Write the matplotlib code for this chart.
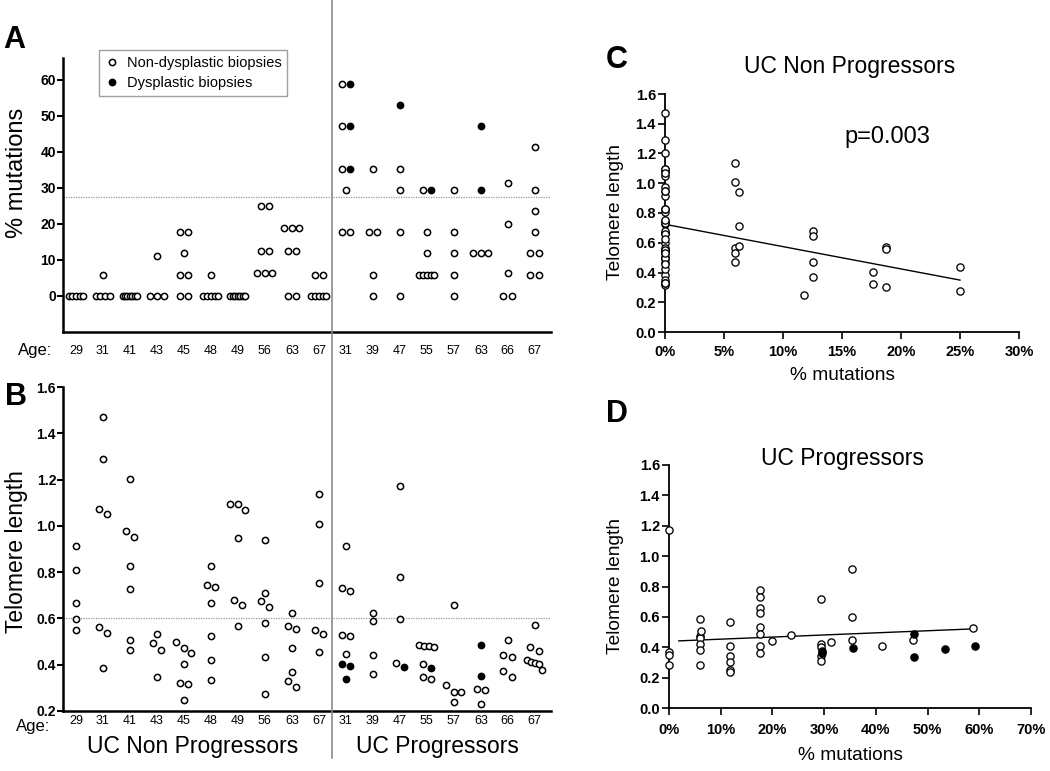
import numpy as np
import matplotlib.pyplot as plt
from matplotlib.lines import Line2D

plt.rcParams['font.family'] = ['Liberation Sans', 'DejaVu Sans']

W, H = 1050, 771

ages_np = [29, 31, 41, 43, 45, 48, 49, 56, 63, 67]
ages_p = [31, 39, 47, 55, 57, 63, 66, 67]

# panel A: % mutations per biopsy
mut_np = [
    [0, 0, 0, 0, 0],
    [5.9, 0, 0, 0, 0],
    [0, 0, 0, 0, 0, 0, 0],
    [11.1, 0, 0, 0],
    [17.6, 17.6, 11.8, 5.9, 5.9, 0, 0],
    [5.9, 0, 0, 0, 0, 0],
    [0, 0, 0, 0, 0, 0, 0],
    [25, 25, 12.5, 12.5, 6.25, 6.25, 6.25],
    [18.75, 18.75, 18.75, 12.5, 12.5, 0, 0],
    [5.9, 5.9, 0, 0, 0, 0, 0],
]
mut_p_open = [
    [58.8, 47.1, 35.3, 29.4, 17.6, 17.6],
    [35.3, 17.6, 17.6, 5.9, 0],
    [35.3, 29.4, 17.6, 0],
    [29.4, 17.6, 11.8, 5.9, 5.9, 5.9, 5.9, 5.9],
    [29.4, 17.6, 11.8, 5.9, 0],
    [11.8, 11.8, 11.8],
    [31.25, 20, 6.25, 0, 0],
    [41.2, 29.4, 23.5, 17.6, 11.8, 11.8, 5.9, 5.9],
]
mut_p_dys = [
    [58.8, 47.1, 35.3],
    [],
    [52.9],
    [29.4],
    [],
    [47.1, 29.4],
    [],
    [],
]

# panel B: telomere length per biopsy
tel_np = [
    [0.915, 0.809, 0.667, 0.599, 0.551],
    [1.470, 1.288, 1.073, 1.050, 0.563, 0.538, 0.384],
    [1.201, 0.976, 0.950, 0.827, 0.729, 0.505, 0.462],
    [0.534, 0.492, 0.462, 0.349],
    [0.498, 0.471, 0.449, 0.401, 0.323, 0.315, 0.247],
    [0.828, 0.746, 0.735, 0.665, 0.525, 0.422, 0.332],
    [1.096, 1.095, 1.069, 0.946, 0.679, 0.659, 0.566],
    [0.938, 0.712, 0.677, 0.649, 0.579, 0.434, 0.273],
    [0.623, 0.568, 0.556, 0.471, 0.369, 0.330, 0.302],
    [1.136, 1.010, 0.752, 0.550, 0.531, 0.455],
]
tel_p_open = [
    [0.913, 0.732, 0.719, 0.530, 0.525, 0.448],
    [0.624, 0.587, 0.444, 0.362],
    [1.171, 0.778, 0.599, 0.408],
    [0.487, 0.481, 0.481, 0.477, 0.401, 0.346, 0.339],
    [0.656, 0.312, 0.283, 0.280, 0.240],
    [0.297, 0.289, 0.232],
    [0.508, 0.444, 0.434, 0.371, 0.349],
    [0.573, 0.477, 0.458, 0.422, 0.412, 0.408, 0.402, 0.376],
]
tel_p_dys = [
    [0.404, 0.395, 0.339],
    [],
    [0.388],
    [0.384],
    [],
    [0.487, 0.352],
    [],
    [],
]

# panel C: non progressors, telomere length vs % mutations
c_tel_at_0pct = [0.915, 0.809, 0.667, 0.599, 0.551, 1.470, 1.288, 1.073, 1.050,
                 0.538, 0.384, 1.201, 0.976, 0.950, 0.827, 0.729, 0.505, 0.462,
                 0.534, 0.492, 0.349, 0.498, 0.315, 0.828, 0.746, 0.735, 0.665,
                 0.422, 0.332, 1.096, 1.095, 1.069, 0.946, 0.679, 0.659, 0.566,
                 0.623, 0.330, 0.752, 0.550, 0.531, 0.455]
c_mut = [5.9, 5.9, 5.9, 5.9, 5.9, 6.25, 6.25, 6.25, 11.8, 12.5, 12.5, 12.5, 12.5,
         17.6, 17.6, 18.75, 18.75, 18.75, 25, 25]
c_tel = [1.135, 1.009, 0.566, 0.528, 0.472, 0.939, 0.715, 0.580, 0.249, 0.676,
         0.647, 0.472, 0.371, 0.402, 0.324, 0.571, 0.557, 0.301, 0.436, 0.274]
c_fit_x = [0, 25]
c_fit_y = [0.724, 0.349]

# panel D: progressors
d_mut_open = [0, 0, 0, 0, 5.9, 5.9, 5.9, 5.9, 5.9, 5.9, 6.25,
              11.8, 11.8, 11.8, 11.8, 11.8, 11.8,
              17.6, 17.6, 17.6, 17.6, 17.6, 17.6, 17.6, 17.6,
              20, 23.5, 29.4, 29.4, 29.4, 29.4, 29.4, 31.25,
              35.3, 35.3, 35.3, 41.2, 47.1, 58.8]
d_tel_open = [1.170, 0.372, 0.350, 0.286, 0.585, 0.475, 0.458, 0.423, 0.379, 0.280, 0.504,
              0.569, 0.405, 0.344, 0.300, 0.247, 0.234,
              0.778, 0.732, 0.658, 0.625, 0.533, 0.487, 0.410, 0.362,
              0.443, 0.478, 0.717, 0.421, 0.399, 0.340, 0.311, 0.434,
              0.912, 0.596, 0.445, 0.411, 0.446, 0.526]
d_mut_dys = [29.6, 29.6, 35.6, 47.4, 47.4, 53.3, 59.2]
d_tel_dys = [0.378, 0.360, 0.392, 0.488, 0.339, 0.388, 0.405]
d_fit_x = [1.9, 58.9]
d_fit_y = [0.442, 0.521]


def fig_rect(left, top, right, bottom):
    return [left / W, 1 - bottom / H, (right - left) / W, (bottom - top) / H]


def ftext(x, y, s, **kw):
    fig.text(x / W, 1 - y / H, s, ha='center', va='center', **kw)


def spread(vals, flags, tol, step=0.32, width=0.55):
    items = sorted(zip(vals, flags), key=lambda t: (-t[0], t[1]))
    out, cluster = [], []

    def place(cl):
        n = len(cl)
        s = step if n < 2 else min(step, width / (n - 1))
        return [(v, f, (k - (n - 1) / 2) * s) for k, (v, f) in enumerate(cl)]

    for v, f in items:
        if cluster and cluster[-1][0] - v >= tol:
            out += place(cluster)
            cluster = []
        cluster.append((v, f))
    if cluster:
        out += place(cluster)
    return out


def column_plot(ax, groups_open, groups_dys, start, tol):
    for i, (o, d) in enumerate(zip(groups_open, groups_dys)):
        pts = spread(list(o) + list(d), [False] * len(o) + [True] * len(d), tol)
        for v, f, dx in pts:
            ax.plot(start + i + dx, v, 'o', ms=4.5, mew=1.1, mec='black',
                    mfc='black' if f else 'white', clip_on=False, zorder=3)


def style_col_axes(ax):
    for s in ['top', 'right']:
        ax.spines[s].set_visible(False)
    for s in ['left', 'bottom']:
        ax.spines[s].set_linewidth(1.8)
    ax.set_xlim(-0.48, 17.6)
    ax.set_xticks(range(len(ages_np) + len(ages_p)))
    ax.set_xticklabels([str(a) for a in ages_np + ages_p], fontsize=9)
    ax.tick_params(axis='y', length=4, width=1.5, labelsize=10, pad=1)
    for t in ax.get_yticklabels():
        t.set_fontweight('bold')


fig = plt.figure(figsize=(W / 100, H / 100), dpi=100)

# ---- panel A
axA = fig.add_axes(fig_rect(63, 58, 551, 332))
column_plot(axA, mut_np, [[] for _ in ages_np], 0, 0.5)
column_plot(axA, mut_p_open, mut_p_dys, len(ages_np), 0.5)
axA.set_ylim(-10, 66)
axA.set_yticks(range(0, 61, 10))
style_col_axes(axA)
axA.tick_params(axis='x', length=0, pad=9)
axA.axhline(27.5, color='#999999', lw=0.9, ls=(0, (1, 1)), zorder=1)
handles = [Line2D([], [], marker='o', ls='none', ms=4.5, mew=1.1, mec='black', mfc='white'),
           Line2D([], [], marker='o', ls='none', ms=4.5, mew=1.1, mec='black', mfc='black')]
leg = axA.legend(handles, ['Non-dysplastic biopsies', 'Dysplastic biopsies'],
                 loc='upper left', bbox_to_anchor=((99 - 63) / 488, (332 - 50) / 274),
                 borderaxespad=0, fancybox=False, fontsize=10.5, handlelength=1.0,
                 handletextpad=0.5, labelspacing=0.4, borderpad=0.4)
leg.get_frame().set_edgecolor('#888888')
leg.get_frame().set_linewidth(1.0)

# ---- panel B
axB = fig.add_axes(fig_rect(63, 387, 551, 711))
column_plot(axB, tel_np, [[] for _ in ages_np], 0, 0.032)
column_plot(axB, tel_p_open, tel_p_dys, len(ages_np), 0.032)
axB.set_ylim(0.2, 1.6)
axB.set_yticks(np.arange(0.2, 1.61, 0.2))
axB.set_yticklabels(['%.1f' % v for v in np.arange(0.2, 1.61, 0.2)])
style_col_axes(axB)
axB.tick_params(axis='x', length=0, pad=3)
axB.axhline(0.6, color='#999999', lw=0.9, ls=(0, (1, 1)), zorder=1)

# divider between groups
xdiv = fig.transFigure.inverted().transform(axA.transData.transform((len(ages_np) - 0.5, 0)))[0]
fig.add_artist(Line2D([xdiv, xdiv], [1 - 758 / H, 1.0], transform=fig.transFigure,
                      color='#8a8a8a', lw=1.2))

ftext(14, 40, 'A', fontsize=22, fontweight='bold')
ftext(16, 397, 'B', fontsize=22, fontweight='bold')
ftext(17, 173, '% mutations', fontsize=17, rotation=90)
ftext(17, 552, 'Telomere length', fontsize=16.5, rotation=90)
ftext(35, 351, 'Age:', fontsize=12)
ftext(33, 726, 'Age:', fontsize=12)
ftext(193, 747, 'UC Non Progressors', fontsize=16.5)
ftext(437, 747, 'UC Progressors', fontsize=16.5)


def style_scatter_axes(ax, xmax, xstep, pad):
    for s in ['top', 'right']:
        ax.spines[s].set_visible(False)
    for s in ['left', 'bottom']:
        ax.spines[s].set_linewidth(1.3)
    ax.set_xlim(0, xmax)
    ax.set_ylim(0, 1.6)
    ax.set_xticks(range(0, xmax + 1, xstep))
    ax.set_xticklabels(['%d%%' % v for v in range(0, xmax + 1, xstep)])
    ax.set_yticks(np.arange(0, 1.61, 0.2))
    ax.set_yticklabels(['%.1f' % v for v in np.arange(0, 1.61, 0.2)])
    ax.tick_params(axis='both', length=5, width=1.2, labelsize=10.5)
    ax.tick_params(axis='x', pad=pad)
    ax.tick_params(axis='y', pad=1.5)
    for t in ax.get_xticklabels() + ax.get_yticklabels():
        t.set_fontweight('bold')


# ---- panel C
axC = fig.add_axes(fig_rect(665, 94, 1019, 332))
axC.plot(np.zeros(len(c_tel_at_0pct)), c_tel_at_0pct, 'o', ms=5.2, mew=0.95,
         mec='black', mfc='white', clip_on=False, zorder=3)
axC.plot(c_mut, c_tel, 'o', ms=5.2, mew=0.95, mec='black', mfc='white', clip_on=False, zorder=3)
axC.plot(c_fit_x, c_fit_y, color='black', lw=1.0, zorder=2)
style_scatter_axes(axC, 30, 5, 4)
ftext(617, 60, 'C', fontsize=22, fontweight='bold')
ftext(850, 67, 'UC Non Progressors', fontsize=16.5)
ftext(887, 137, 'p=0.003', fontsize=17)
ftext(616, 212, 'Telomere length', fontsize=13.8, rotation=90)
ftext(842, 375, '% mutations', fontsize=13.8)

# ---- panel D
axD = fig.add_axes(fig_rect(669, 465, 1031, 708))
axD.plot(d_mut_open, d_tel_open, 'o', ms=5.2, mew=0.95, mec='black', mfc='white',
         clip_on=False, zorder=3)
axD.plot(d_mut_dys, d_tel_dys, 'o', ms=5.2, mew=0.95, mec='black', mfc='black',
         clip_on=False, zorder=3)
axD.plot(d_fit_x, d_fit_y, color='black', lw=1.0, zorder=2)
style_scatter_axes(axD, 70, 10, 5.5)
ftext(617, 414, 'D', fontsize=22, fontweight='bold')
ftext(842, 458, 'UC Progressors', fontsize=16.5)
ftext(616, 586, 'Telomere length', fontsize=13.8, rotation=90)
ftext(850, 755, '% mutations', fontsize=13.8)

fig.savefig('out.png', dpi=100)
